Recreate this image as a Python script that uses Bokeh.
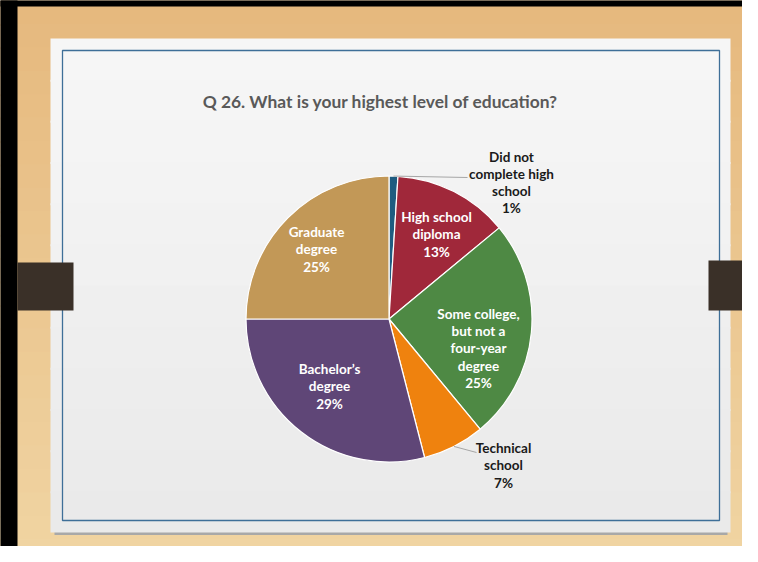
from bokeh.plotting import figure
from bokeh.models import Range1d
from bokeh.core.properties import value
from bokeh.embed import file_html
from bokeh.resources import INLINE
import numpy as np

# ---------------- data ----------------
title_text = "Q 26. What is your highest level of education?"
categories = ["Did not complete high school", "High school diploma",
              "Some college, but not a four-year degree", "Technical school",
              "Bachelor\u2019s degree", "Graduate degree"]
label_lines = [["Did not", "complete high", "school"],
               ["High school", "diploma"],
               ["Some college,", "but not a", "four-year", "degree"],
               ["Technical", "school"],
               ["Bachelor\u2019s", "degree"],
               ["Graduate", "degree"]]
percent = [1, 13, 25, 7, 29, 25]
colors = ["#1F5C80", "#A0283A", "#4E8944", "#EF820E", "#5F4677", "#C29857"]

# ---------------- layout (page pixels) ----------------
PAGE_H = 562
def Y(py):
    return PAGE_H - py

CX, CY, R = 388.5, 318.5, 143.0
FONT = "Lato"
# label block centres (page px) and colours
label_pos = [(511, 182), (436, 234), (478, 348), (503, 465), (329, 386), (316, 249)]
label_col = ["#1A1A1A", "white", "white", "#1A1A1A", "white", "white"]
leader_end = {0: (467, 177), 3: (476, 452)}

WOOD_TOP, WOOD_BOT = np.array([0xE6, 0xB9, 0x7E]), np.array([0xF0, 0xD4, 0xA2])

p = figure(width=742, height=546, x_range=Range1d(0, 742), y_range=Range1d(16, 562),
           output_backend="svg", toolbar_location=None, x_axis_type=None, y_axis_type=None,
           min_border=0, outline_line_color=None,
           background_fill_color="#EDCB93", border_fill_color="#EDCB93")
p.xgrid.visible = False
p.ygrid.visible = False

def hexc(c):
    return "#%02X%02X%02X" % tuple(int(round(v)) for v in c)

# wood background bands (overlapping to avoid seams)
nb = 24
edges = np.linspace(0, PAGE_H, nb + 1)
wc = [hexc(WOOD_TOP + (WOOD_BOT - WOOD_TOP) * (i / (nb - 1))) for i in range(nb)]
p.quad(left=-5, right=760, top=[Y(e) for e in edges[:-1]], bottom=[Y(e) - 2 for e in edges[1:]],
       fill_color=wc, line_color=None)

# black frame on the left / top
p.quad(left=-5, right=17, top=Y(-5), bottom=Y(PAGE_H + 5), fill_color="black", line_color=None)
p.quad(left=-5, right=760, top=Y(-5), bottom=Y(6), fill_color="black", line_color=None)

# panel shadow + white panel with subtle gradient
p.quad(left=54, right=727, top=Y(531), bottom=Y(534.5), fill_color="#A8A8A8", line_color=None)
nb2 = 12
e2 = np.linspace(38, 532, nb2 + 1)
c0, c1 = np.array([0xF6, 0xF6, 0xF6]), np.array([0xEA, 0xEA, 0xEA])
pc = [hexc(c0 + (c1 - c0) * (i / (nb2 - 1))) for i in range(nb2)]
bots = [Y(e) - 2 for e in e2[1:]]
bots[-1] = Y(532)
p.quad(left=50, right=730, top=[Y(e) for e in e2[:-1]], bottom=bots,
       fill_color=pc, line_color=None)

# blue border
p.quad(left=62, right=719, top=Y(50), bottom=Y(520), fill_color=None,
       line_color="#3E6F98", line_width=1.3)

# tabs
p.quad(left=17, right=73, top=Y(262), bottom=Y(310), fill_color="#3A3028", line_color=None)
p.quad(left=708, right=760, top=Y(260), bottom=Y(310), fill_color="#3A3028", line_color=None)

# title
p.text(x=[380], y=[Y(101)], text=[title_text], text_font=value(FONT), text_font_style="bold",
       text_font_size="17.4px", text_color="#595959", text_align="center", text_baseline="middle")

# pie
frac = np.array(percent, dtype=float) / sum(percent)
cum = np.concatenate([[0], np.cumsum(frac)])
start = [np.pi / 2 - 2 * np.pi * cum[i + 1] for i in range(len(frac))]
end = [np.pi / 2 - 2 * np.pi * cum[i] for i in range(len(frac))]
p.wedge(x=CX, y=Y(CY), radius=R, start_angle=start, end_angle=end, direction="anticlock",
        fill_color=colors, line_color="white", line_width=1.2)

# leader lines
for i, (ex, ey) in leader_end.items():
    mid = 2 * np.pi * (cum[i] + cum[i + 1]) / 2
    sx, sy = CX + R * np.sin(mid), CY - R * np.cos(mid)
    p.line(x=[sx, ex], y=[Y(sy), Y(ey)], line_color="#A6A6A6", line_width=1)

# labels
texts = ["\n".join(l + ["%d%%" % v]) for l, v in zip(label_lines, percent)]
p.text(x=[q[0] for q in label_pos], y=[Y(q[1]) for q in label_pos], text=texts,
       text_font=value(FONT), text_font_style="bold", text_font_size="13.5px",
       text_color=label_col, text_align="center", text_baseline="middle",
       text_line_height=1.07)

open("out.html", "w").write(file_html(p, INLINE))
